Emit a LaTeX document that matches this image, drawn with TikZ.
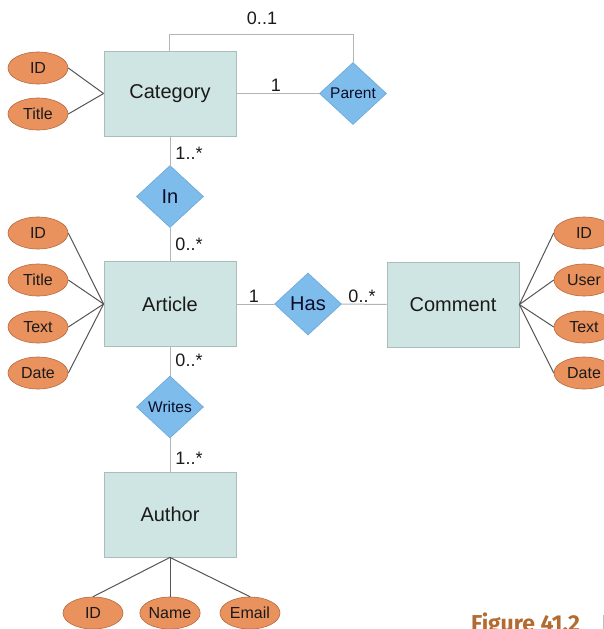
\documentclass[tikz,border=0pt]{standalone}
\usepackage{fontspec}
\setmainfont{Liberation Sans}
\newfontfamily\figfont{Fira Sans}
\usetikzlibrary{shapes.geometric}
\definecolor{boxfill}{HTML}{CFE5E3}
\definecolor{boxline}{HTML}{A9BDBB}
\definecolor{relfill}{HTML}{7EBDEB}
\definecolor{relline}{HTML}{6AA6D6}
\definecolor{attfill}{HTML}{EA925E}
\definecolor{attline}{HTML}{B56A3E}
\definecolor{relconn}{HTML}{B4B4B4}
\definecolor{attconn}{HTML}{555555}
\definecolor{txt}{HTML}{1A1A1A}
\definecolor{figcol}{HTML}{B36B30}
\tikzset{
  entity/.style={rectangle, fill=boxfill, draw=boxline, line width=0.8pt,
    minimum width=132pt, minimum height=85pt, inner sep=0pt,
    font=\fontsize{20}{24}\selectfont, text=txt},
  rel/.style={diamond, fill=relfill, draw=relline, line width=0.6pt,
    minimum width=67pt, minimum height=62pt, inner sep=0pt, text=txt!80!blue!60!black},
  relsmall/.style={rel, font=\fontsize{15.5}{18}\selectfont},
  relbig/.style={rel, font=\fontsize{20}{24}\selectfont},
  attr/.style={ellipse, fill=attfill, draw=attline, line width=0.6pt,
    minimum width=60pt, minimum height=32pt, inner sep=0pt,
    font=\fontsize{16}{18}\selectfont, text=txt},
  mult/.style={font=\fontsize{18}{21}\selectfont, text=txt, inner sep=0pt},
  rconn/.style={draw=relconn, line width=1pt},
  aconn/.style={draw=attconn, line width=1pt},
}
\begin{document}
\begin{tikzpicture}[x=1pt, y=-1pt]
\clip (0,0) rectangle (604,629);
\fill[white] (0,0) rectangle (604,629);

% entities
\node[entity] (cat) at (170,93.5) {Category};
\node[entity] (art) at (170,304) {Article};
\node[entity] (com) at (453,304.5) {Comment};
\node[entity] (auth) at (170,514.5) {Author};

% relationships
\node[relsmall] (parent) at (353,93.5) {Parent};
\node[relbig] (in) at (170,196.5) {In};
\node[relbig] (has) at (308,304) {Has};
\node[relsmall] (writes) at (170,407) {Writes};

% attributes
\node[attr] (catid) at (38,68) {ID};
\node[attr] (cattitle) at (38,114) {Title};
\node[attr] (artid) at (38,233) {ID};
\node[attr] (arttitle) at (38,280) {Title};
\node[attr] (arttext) at (38,327) {Text};
\node[attr] (artdate) at (38,373) {Date};
\node[attr] (comid) at (584,233) {ID};
\node[attr] (comuser) at (584,280) {User};
\node[attr] (comtext) at (584,327) {Text};
\node[attr] (comdate) at (584,373) {Date};
\node[attr] (authid) at (93,613) {ID};
\node[attr] (authname) at (170,613) {Name};
\node[attr] (authemail) at (250,613) {Email};

% relationship connectors
\coordinate (pa) at (169,34);
\coordinate (pb) at (353,34);
\draw[rconn] (cat.north -| pa) -- (pa) -- (pb) -- (parent.north);
\draw[rconn] (cat.east) -- (parent.west);
\draw[rconn] (cat.south) -- (in.north);
\draw[rconn] (in.south) -- (art.north);
\draw[rconn] (art.east) -- (has.west);
\draw[rconn] (has.east) -- (com.west);
\draw[rconn] (art.south) -- (writes.north);
\draw[rconn] (writes.south) -- (auth.north);

% attribute connectors
\foreach \a in {catid,cattitle} \draw[aconn] (\a.east) -- (cat.west);
\foreach \a in {artid,arttitle,arttext,artdate} \draw[aconn] (\a.east) -- (art.west);
\foreach \a in {comid,comuser,comtext,comdate} \draw[aconn] (\a.west) -- (com.east);
\foreach \a in {authid,authname,authemail} \draw[aconn] (\a.north) -- (auth.south);

% multiplicities
\node[mult] (m01) at (262,18) {0..1};
\node[mult] (m1p) at (276,85) {1};
\node[mult] (m1c) at (189,153) {1..*};
\node[mult] (m0a) at (189,244) {0..*};
\node[mult] (m1h) at (254,296) {1};
\node[mult] (m0h) at (362,296) {0..*};
\node[mult] (m0w) at (189,360) {0..*};
\node[mult] (m1w) at (189,458) {1..*};

% caption
\node[anchor=base west, inner sep=0pt, text=figcol,
  font=\figfont\bfseries\fontsize{23}{26}\selectfont] (fig) at (471,631) {Figure 41.2};
\draw[draw=black!25, line width=0.8pt] (603,615) -- (603,629);
\end{tikzpicture}
\end{document}
